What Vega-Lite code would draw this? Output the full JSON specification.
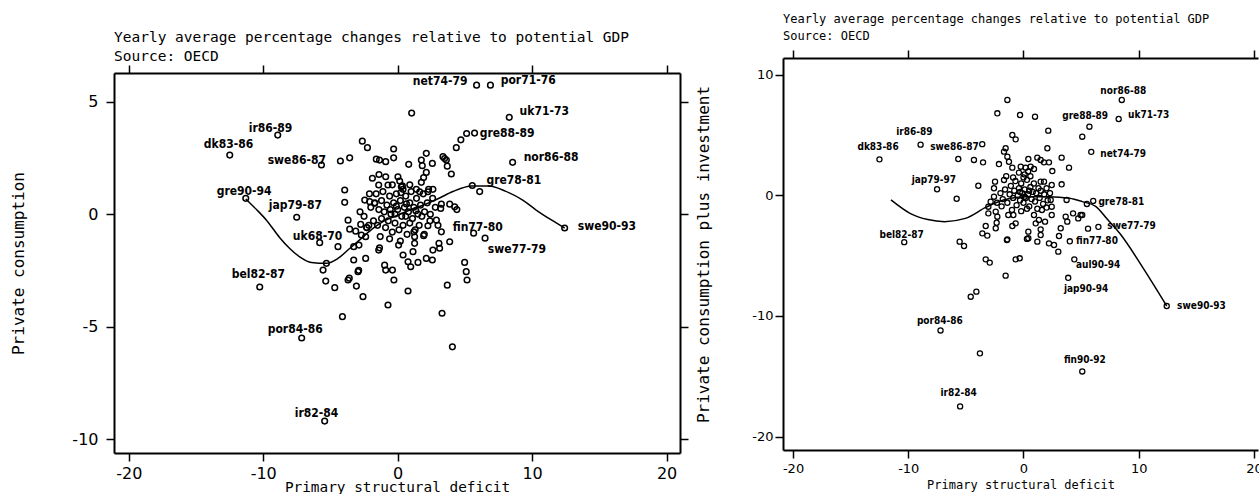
{
"$schema": "https://vega.github.io/schema/vega-lite/v6.json",
"background": "white",
"padding": {"left": 10, "top": 13, "right": 0, "bottom": 0},
"spacing": 6,
"columns": 2,
"config": {
  "view": {"stroke": null},
  "axis": {"domainColor": "black", "domainWidth": 2, "tickColor": "black", "tickWidth": 1.5, "tickSize": 8, "grid": false, "labelColor": "black", "titleColor": "black", "titleFontWeight": "normal", "labelFont": "DejaVu Sans", "titleFont": "DejaVu Sans Mono", "labelFlush": false}
},
"datasets": {
  "left": [
    {"x":5.87,"y":5.73},{"x":6.9,"y":5.73},{"x":8.3,"y":4.3},{"x":5.72,"y":3.6},{"x":5.13,"y":3.58},{"x":4.7,"y":3.3},{"x":4.36,"y":2.95},{"x":8.55,"y":2.3},{"x":5.55,"y":1.27},{"x":6.1,"y":1.0},{"x":12.42,"y":-0.62},{"x":5.65,"y":-0.85},{"x":6.5,"y":-1.07},{"x":-8.92,"y":3.51},{"x":-12.49,"y":2.62},{"x":-5.67,"y":2.18},{"x":-11.3,"y":0.7},{"x":-7.51,"y":-0.14},{"x":-5.8,"y":-1.27},{"x":-10.26,"y":-3.24},{"x":-7.14,"y":-5.51},{"x":-5.43,"y":-9.2},
    {"x":1.04,"y":4.49},{"x":-2.63,"y":3.24},{"x":-2.25,"y":2.95},{"x":-0.3,"y":2.89},{"x":-0.3,"y":2.5},{"x":-4.26,"y":2.36},{"x":-3.57,"y":2.5},{"x":-1.59,"y":2.44},{"x":-1.35,"y":2.4},{"x":-0.89,"y":2.33},{"x":0.82,"y":2.21},{"x":1.76,"y":2.4},{"x":1.83,"y":2.15},{"x":2.13,"y":2.7},{"x":2.58,"y":2.25},{"x":3.37,"y":2.55},{"x":3.49,"y":2.47},{"x":3.62,"y":2.4},{"x":3.69,"y":2.13},{"x":3.99,"y":1.78},
    {"x":-1.39,"y":1.76},{"x":-1.88,"y":1.59},{"x":-0.89,"y":1.66},{"x":-1.41,"y":1.29},{"x":-0.72,"y":1.29},{"x":0.02,"y":1.66},{"x":0.15,"y":1.47},{"x":0.27,"y":1.21},{"x":0.35,"y":1.25},{"x":2.13,"y":1.85},{"x":1.93,"y":1.62},{"x":1.76,"y":1.41},{"x":1.39,"y":1.1},{"x":1.64,"y":0.99},{"x":2.25,"y":0.99},{"x":2.62,"y":1.1},
    {"x":-3.94,"y":1.07},{"x":-3.94,"y":0.52},{"x":-2.45,"y":0.62},{"x":-2.08,"y":0.55},{"x":-1.71,"y":0.48},{"x":3.25,"y":0.44},{"x":3.87,"y":0.44},{"x":4.24,"y":0.32},{"x":4.4,"y":0.2},
    {"x":-3.69,"y":-0.27},{"x":-3.57,"y":-0.67},{"x":-3.12,"y":-0.76},{"x":-2.75,"y":-0.46},{"x":-2.7,"y":-0.93},{"x":-3.27,"y":-1.45},{"x":-2.88,"y":-1.38},{"x":-2.38,"y":-1.01},{"x":-2.3,"y":-0.6},{"x":-2.15,"y":-0.5},{"x":-4.44,"y":-1.45},
    {"x":-5.3,"y":-2.19},{"x":-5.55,"y":-2.49},{"x":-5.35,"y":-2.98},{"x":-4.68,"y":-3.27},{"x":-3.27,"y":-2.04},{"x":-2.38,"y":-1.97},{"x":-2.95,"y":-2.56},{"x":-2.9,"y":-2.5},{"x":-3.69,"y":-2.93},{"x":-3.6,"y":-2.85},{"x":-3.07,"y":-3.2},{"x":-2.58,"y":-3.67},{"x":-4.11,"y":-4.56},
    {"x":-1.41,"y":-1.6},{"x":-1.35,"y":-1.5},{"x":-0.72,"y":-4.04},{"x":-0.97,"y":-2.27},{"x":-0.89,"y":-2.49},{"x":-0.39,"y":-2.49},{"x":-0.28,"y":-2.93},{"x":0.07,"y":-1.38},{"x":0.4,"y":-1.82},{"x":0.77,"y":-2.12},{"x":0.97,"y":-2.34},{"x":1.51,"y":-2.15},{"x":0.77,"y":-3.42},
    {"x":1.21,"y":-0.79},{"x":1.26,"y":-1.01},{"x":1.26,"y":-1.3},{"x":1.14,"y":-1.67},{"x":1.93,"y":-0.96},{"x":1.98,"y":-0.9},{"x":2.13,"y":-1.97},{"x":2.58,"y":-2.04},{"x":2.62,"y":-1.6},{"x":3.12,"y":-1.52},{"x":3.07,"y":-1.3},{"x":3.25,"y":-0.79},{"x":3.87,"y":-1.23},{"x":3.69,"y":-3.16},{"x":3.3,"y":-4.41},{"x":4.98,"y":-2.15},{"x":5.1,"y":-2.56},{"x":5.16,"y":-2.93},{"x":4.07,"y":-5.9},{"x":2.43,"y":-0.01},{"x":2.88,"y":-0.27},{"x":3.2,"y":0.25},{"x":2.25,"y":-0.52},
    {"x":-2.0,"y":0.3},{"x":-1.7,"y":0.5},{"x":-1.4,"y":0.2},{"x":-1.2,"y":0.6},{"x":-1.0,"y":0.1},{"x":-0.8,"y":0.4},{"x":-0.6,"y":0.8},{"x":-0.5,"y":0.0},{"x":-0.3,"y":0.5},{"x":-0.1,"y":0.9},{"x":0.0,"y":0.2},{"x":0.2,"y":0.6},{"x":0.3,"y":-0.1},{"x":0.5,"y":0.3},{"x":0.6,"y":0.8},{"x":0.8,"y":0.1},{"x":0.9,"y":0.5},{"x":1.1,"y":-0.2},{"x":1.2,"y":0.3},{"x":1.4,"y":0.7},{"x":1.5,"y":0.0},{"x":1.7,"y":0.4},{"x":1.9,"y":0.9},{"x":2.0,"y":0.1},{"x":2.2,"y":0.5},{"x":2.4,"y":-0.3},{"x":-1.8,"y":-0.3},{"x":-1.5,"y":-0.5},{"x":-1.2,"y":-0.2},{"x":-0.9,"y":-0.6},{"x":-0.7,"y":-0.3},{"x":-0.4,"y":-0.8},{"x":-0.2,"y":-0.4},{"x":0.1,"y":-0.7},{"x":0.4,"y":-0.5},{"x":0.7,"y":-0.9},{"x":0.9,"y":-0.4},{"x":1.3,"y":-0.7},{"x":1.6,"y":-0.5},{"x":-2.3,"y":-0.6},{"x":-2.5,"y":-0.1},{"x":-1.1,"y":1.0},{"x":0.4,"y":1.1},{"x":1.0,"y":1.0},{"x":-0.6,"y":-1.1},{"x":0.2,"y":-1.2},{"x":-1.3,"y":-1.0},{"x":2.6,"y":0.7},{"x":2.8,"y":0.3},{"x":-0.2,"y":0.0},{"x":0.6,"y":-0.1},{"x":1.8,"y":-0.1},{"x":-1.6,"y":0.9},{"x":-2.1,"y":0.9},{"x":0.9,"y":1.3},{"x":-0.4,"y":1.3},{"x":2.3,"y":1.1},{"x":3.0,"y":-0.5},{"x":-2.8,"y":0.1},{"x":-0.1,"y":0.35},{"x":0.65,"y":0.45},{"x":1.35,"y":0.15},{"x":-0.55,"y":0.2},{"x":0.25,"y":0.95}
  ],
  "leftcurve": [
    {"x":-11.3,"y":0.67},{"x":-10.5,"y":0.2},{"x":-9.76,"y":-0.27},{"x":-8.77,"y":-1.05},{"x":-8.03,"y":-1.53},{"x":-7.29,"y":-1.9},{"x":-6.42,"y":-2.15},{"x":-5.3,"y":-2.19},{"x":-4.44,"y":-1.97},{"x":-3.57,"y":-1.53},{"x":-2.7,"y":-1.08},{"x":-1.84,"y":-0.64},{"x":-1.0,"y":-0.3},{"x":0,"y":-0.05},{"x":1,"y":0.2},{"x":2,"y":0.42},{"x":3,"y":0.68},{"x":4.1,"y":1.0},{"x":5.5,"y":1.25},{"x":6.8,"y":1.25},{"x":8.0,"y":1.02},{"x":9.3,"y":0.62},{"x":10.3,"y":0.18},{"x":11.4,"y":-0.25},{"x":12.42,"y":-0.62}
  ],
  "leftlab": [
    {"label":"net74-79","x":1.12,"y":5.91},{"label":"por71-76","x":7.66,"y":5.96},{"label":"uk71-73","x":9.07,"y":4.58},{"label":"gre88-89","x":6.1,"y":3.6},{"label":"nor86-88","x":9.37,"y":2.53},{"label":"gre78-81","x":6.6,"y":1.51},{"label":"swe90-93","x":13.4,"y":-0.53},{"label":"fin77-80","x":4.09,"y":-0.58},{"label":"swe77-79","x":6.7,"y":-1.56},{"label":"ir86-89","x":-11.08,"y":3.82},{"label":"dk83-86","x":-14.42,"y":3.11},{"label":"swe86-87","x":-9.67,"y":2.4},{"label":"gre90-94","x":-13.46,"y":1.02},{"label":"jap79-87","x":-9.59,"y":0.4},{"label":"uk68-70","x":-7.8,"y":-0.98},{"label":"bel82-87","x":-12.34,"y":-2.67},{"label":"por84-86","x":-9.67,"y":-5.11},{"label":"ir82-84","x":-7.66,"y":-8.84}
  ],
  "right": [
    {"x":8.53,"y":7.93},{"x":5.72,"y":5.71},{"x":8.26,"y":6.35},{"x":5.88,"y":3.62},{"x":-12.5,"y":3.0},{"x":-8.93,"y":4.22},{"x":-3.58,"y":4.26},{"x":-7.5,"y":0.52},{"x":6.05,"y":-0.45},{"x":5.5,"y":-0.7},{"x":5.6,"y":-2.75},{"x":6.5,"y":-2.6},{"x":4.02,"y":-3.8},{"x":-10.35,"y":-3.87},{"x":-7.2,"y":-11.2},{"x":-5.5,"y":-17.5},{"x":5.1,"y":-14.6},{"x":3.88,"y":-6.83},{"x":4.41,"y":-5.3},{"x":12.43,"y":-9.17},
    {"x":-1.4,"y":7.93},{"x":-2.27,"y":6.82},{"x":-0.3,"y":6.68},{"x":1.0,"y":6.54},{"x":2.15,"y":5.38},{"x":5.1,"y":4.88},{"x":-0.97,"y":5.02},{"x":-0.68,"y":4.66},{"x":2.07,"y":3.92},{"x":3.31,"y":3.14},{"x":3.95,"y":2.31},
    {"x":-5.66,"y":3.03},{"x":-4.3,"y":2.95},{"x":-3.51,"y":2.75},{"x":-2.13,"y":2.61},{"x":-1.55,"y":3.92},{"x":-1.4,"y":3.22},{"x":-1.69,"y":3.64},{"x":-1.26,"y":2.8},{"x":-0.97,"y":2.31},{"x":0.42,"y":3.03},{"x":1.2,"y":3.14},{"x":1.49,"y":2.95},{"x":1.78,"y":2.75},{"x":2.21,"y":2.75},{"x":-0.24,"y":2.39},{"x":0.19,"y":2.31},{"x":0.62,"y":2.39},{"x":0.91,"y":2.2},{"x":-0.4,"y":1.9},{"x":0.1,"y":1.75},{"x":0.4,"y":2.0},{"x":2.5,"y":2.03},{"x":1.49,"y":1.15},{"x":1.78,"y":1.15},{"x":2.45,"y":0.87},{"x":3.31,"y":0.93},{"x":-1.69,"y":1.29},{"x":-2.47,"y":1.15},{"x":-2.56,"y":0.6},{"x":-3.92,"y":0.81},{"x":-5.8,"y":-0.27},
    {"x":-3.05,"y":-1.48},{"x":-3.05,"y":-0.93},{"x":-2.85,"y":-0.51},{"x":-2.56,"y":-0.1},{"x":-2.41,"y":-2.72},{"x":-2.33,"y":-2.26},{"x":-2.27,"y":-1.76},{"x":-2.41,"y":-1.34},{"x":-3.28,"y":-2.53},{"x":-3.57,"y":-3.14},{"x":-3.14,"y":-3.33},{"x":-5.54,"y":-3.83},{"x":-5.16,"y":-4.19},{"x":-3.28,"y":-5.3},{"x":-2.93,"y":-5.57},{"x":-1.55,"y":-6.65},{"x":-0.68,"y":-5.3},{"x":-0.33,"y":-5.21},{"x":-4.58,"y":-8.4},{"x":-4.09,"y":-7.98},{"x":-3.78,"y":-13.1},{"x":-1.4,"y":-3.64},
    {"x":-1.32,"y":-1.62},{"x":-0.88,"y":-1.62},{"x":-0.68,"y":-2.31},{"x":-0.97,"y":-2.53},{"x":0.42,"y":-3.0},{"x":0.42,"y":-3.55},{"x":1.2,"y":-3.83},{"x":1.49,"y":-3.28},{"x":1.49,"y":-2.81},{"x":1.06,"y":-2.31},{"x":1.34,"y":-2.03},{"x":0.91,"y":-1.62},{"x":1.87,"y":-2.17},{"x":2.21,"y":-3.97},{"x":2.65,"y":-4.11},{"x":3.02,"y":-4.66},{"x":2.45,"y":-1.62},{"x":2.45,"y":-0.93},{"x":2.36,"y":-0.37},{"x":3.23,"y":-2.72},{"x":3.08,"y":-3.36},{"x":3.66,"y":-1.76},{"x":3.8,"y":-2.17},{"x":4.3,"y":-1.48},{"x":4.75,"y":-1.9},{"x":4.96,"y":-1.62},{"x":5.1,"y":-1.62},{"x":3.74,"y":-0.37},{"x":-1.44,"y":-3.7},{"x":0.3,"y":-3.6},
    {"x":-2.0,"y":0.2},{"x":-1.8,"y":-0.3},{"x":-1.6,"y":0.5},{"x":-1.4,"y":-0.6},{"x":-1.2,"y":0.1},{"x":-1.1,"y":0.8},{"x":-0.9,"y":-0.2},{"x":-0.8,"y":0.4},{"x":-0.7,"y":1.2},{"x":-0.6,"y":-0.8},{"x":-0.5,"y":0.0},{"x":-0.4,"y":0.6},{"x":-0.3,"y":-0.4},{"x":-0.2,"y":1.0},{"x":-0.1,"y":0.2},{"x":0.0,"y":-0.6},{"x":0.1,"y":0.5},{"x":0.2,"y":-0.2},{"x":0.3,"y":1.3},{"x":0.4,"y":0.1},{"x":0.5,"y":-0.9},{"x":0.6,"y":0.7},{"x":0.7,"y":-0.3},{"x":0.8,"y":0.3},{"x":0.9,"y":1.0},{"x":1.0,"y":-0.5},{"x":1.1,"y":0.2},{"x":1.2,"y":-1.1},{"x":1.3,"y":0.6},{"x":1.4,"y":-0.2},{"x":1.5,"y":0.4},{"x":1.7,"y":-0.7},{"x":1.8,"y":0.1},{"x":2.0,"y":0.6},{"x":2.1,"y":-0.4},{"x":2.3,"y":0.2},{"x":-1.5,"y":1.6},{"x":-0.9,"y":1.5},{"x":0.0,"y":1.5},{"x":0.6,"y":1.6},{"x":-1.9,"y":-0.9},{"x":-1.0,"y":-1.2},{"x":-0.2,"y":-1.3},{"x":0.3,"y":-1.1},{"x":1.6,"y":-1.2},{"x":2.0,"y":-1.0},{"x":-2.3,"y":-0.6},{"x":0.1,"y":-0.1},{"x":-0.3,"y":0.3},{"x":0.5,"y":0.4}
  ],
  "rightcurve": [
    {"x":-11.5,"y":-0.37},{"x":-9.85,"y":-1.48},{"x":-8.3,"y":-2.0},{"x":-6.85,"y":-2.17},{"x":-5.05,"y":-1.9},{"x":-3.24,"y":-0.97},{"x":-1.74,"y":-0.37},{"x":0.36,"y":-0.1},{"x":2.2,"y":-0.1},{"x":4.0,"y":-0.23},{"x":5.1,"y":-0.51},{"x":6.26,"y":-0.9},{"x":7.3,"y":-2.0},{"x":8.4,"y":-3.2},{"x":10.3,"y":-5.9},{"x":12.43,"y":-9.17}
  ],
  "rightlab": [
    {"label":"nor86-88","x":6.67,"y":8.7},{"label":"gre88-89","x":3.36,"y":6.6},{"label":"uk71-73","x":9.07,"y":6.68},{"label":"net74-79","x":6.67,"y":3.44},{"label":"dk83-86","x":-14.41,"y":4.05},{"label":"ir86-89","x":-11.05,"y":5.3},{"label":"swe86-87","x":-8.1,"y":4.05},{"label":"jap79-97","x":-9.7,"y":1.29},{"label":"gre78-81","x":6.5,"y":-0.51},{"label":"swe77-79","x":7.27,"y":-2.53},{"label":"fin77-80","x":4.56,"y":-3.75},{"label":"bel82-87","x":-12.5,"y":-3.28},{"label":"por84-86","x":-9.25,"y":-10.4},{"label":"ir82-84","x":-7.2,"y":-16.4},{"label":"fin90-92","x":3.51,"y":-13.65},{"label":"jap90-94","x":3.51,"y":-7.78},{"label":"aul90-94","x":4.56,"y":-5.77},{"label":"swe90-93","x":13.33,"y":-9.17}
  ]
},
"concat": [
  {
    "width": 566, "height": 395,
    "title": {"text": ["Yearly average percentage changes relative to potential GDP", "Source: OECD"], "anchor": "start", "frame": "group", "font": "DejaVu Sans Mono", "fontSize": 14.5, "fontWeight": "normal", "color": "black", "lineHeight": 19, "offset": -6},
    "resolve": {"axis": {"x": "independent", "y": "independent"}},
    "layer": [
      {"data": {"name": "left"},
       "mark": {"type": "point", "shape": "circle", "filled": false, "color": "black", "size": 32, "strokeWidth": 1.5, "opacity": 1},
       "encoding": {
         "x": {"field": "x", "type": "quantitative", "scale": {"domain": [-21.1, 21], "nice": false, "zero": false},
               "axis": {"orient": "bottom", "values": [-20, -10, 0, 10, 20], "labelFontSize": 16, "labelPadding": 4, "title": "Primary structural deficit", "titleFontSize": 14.4, "titlePadding": -1, "labelExpr": "replace(datum.label, '\u2212', '-')"}},
         "y": {"field": "y", "type": "quantitative", "scale": {"domain": [-10.62, 6.27], "range": [395, 15], "nice": false, "zero": false},
               "axis": {"orient": "left", "values": [-10, -5, 0, 5], "labelFontSize": 16, "labelPadding": 8, "title": "Private consumption", "titleFontSize": 16, "titlePadding": 45, "labelExpr": "replace(datum.label, '\u2212', '-')"}}
       }},
      {"data": {"name": "leftcurve"},
       "mark": {"type": "line", "color": "black", "strokeWidth": 1.5, "interpolate": "monotone"},
       "encoding": {
         "x": {"field": "x", "type": "quantitative", "axis": {"orient": "top", "offset": -15, "values": [-20, -10, 0, 10, 20], "labels": false, "title": null}},
         "y": {"field": "y", "type": "quantitative", "axis": {"orient": "right", "values": [-10, -5, 0, 5], "labels": false, "title": null}}
       }},
      {"data": {"name": "leftlab"},
       "mark": {"type": "text", "align": "left", "baseline": "middle", "font": "DejaVu Sans Condensed", "fontWeight": "bold", "fontSize": 12, "color": "black"},
       "encoding": {
         "x": {"field": "x", "type": "quantitative", "axis": null},
         "y": {"field": "y", "type": "quantitative", "axis": null},
         "text": {"field": "label"}
       }}
    ]
  },
  {
    "width": 475, "height": 392,
    "title": {"text": ["Yearly average percentage changes relative to potential GDP", "Source: OECD"], "anchor": "start", "frame": "group", "font": "DejaVu Sans Mono", "fontSize": 12, "fontWeight": "normal", "color": "black", "lineHeight": 17, "offset": 6},
    "resolve": {"axis": {"x": "independent", "y": "independent"}},
    "layer": [
      {"data": {"name": "right"},
       "mark": {"type": "point", "shape": "circle", "filled": false, "color": "black", "size": 26, "strokeWidth": 1.3, "opacity": 1},
       "encoding": {
         "x": {"field": "x", "type": "quantitative", "scale": {"domain": [-20.87, 20.35], "nice": false, "zero": false},
               "axis": {"orient": "bottom", "values": [-20, -10, 0, 10, 20], "labelFontSize": 13, "labelPadding": 4, "title": "Primary structural deficit", "titleFontSize": 12, "titlePadding": 4, "labelExpr": "replace(datum.label, '\u2212', '-')"}},
         "y": {"field": "y", "type": "quantitative", "scale": {"domain": [-21.12, 11.41], "nice": false, "zero": false},
               "axis": {"orient": "left", "values": [-20, -10, 0, 10], "labelFontSize": 13, "labelPadding": 2, "title": "Private consumption plus investment", "titleFontSize": 16, "titlePadding": 40, "labelExpr": "replace(datum.label, '\u2212', '-')"}}
       }},
      {"data": {"name": "rightcurve"},
       "mark": {"type": "line", "color": "black", "strokeWidth": 1.5, "interpolate": "monotone"},
       "encoding": {
         "x": {"field": "x", "type": "quantitative", "axis": {"orient": "top", "values": [-20, -10, 0, 10, 20], "labels": false, "title": null}},
         "y": {"field": "y", "type": "quantitative", "axis": null}
       }},
      {"data": {"name": "rightlab"},
       "mark": {"type": "text", "align": "left", "baseline": "middle", "font": "DejaVu Sans Condensed", "fontWeight": "bold", "fontSize": 10, "color": "black"},
       "encoding": {
         "x": {"field": "x", "type": "quantitative", "axis": null},
         "y": {"field": "y", "type": "quantitative", "axis": null},
         "text": {"field": "label"}
       }}
    ]
  }
]
}
